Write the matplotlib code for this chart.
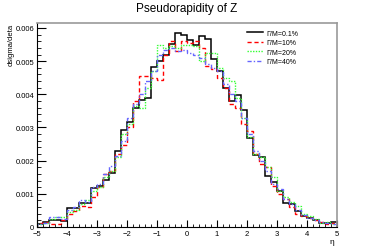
import numpy as np
import matplotlib
matplotlib.use("Agg")
import matplotlib.pyplot as plt
from matplotlib.ticker import MultipleLocator

plt.rcParams['font.family'] = ['Liberation Sans', 'DejaVu Sans']

# 50 bins of width 0.2 from -5 to 5
edges = np.linspace(-5, 5, 51)

w01 = [0.00009, 0.00015, 0.00020, 0.00020, 0.00017, 0.00057, 0.00057, 0.00073, 0.00073, 0.00117,
       0.00125, 0.00143, 0.00164, 0.00229, 0.00292, 0.00317, 0.00358, 0.00383, 0.00388, 0.00481,
       0.00501, 0.00519, 0.00552, 0.00586, 0.00578, 0.00565, 0.00550, 0.00575, 0.00568, 0.00507,
       0.00469, 0.00418, 0.00380, 0.00398, 0.00353, 0.00269, 0.00216, 0.00211, 0.00153, 0.00135,
       0.00110, 0.00073, 0.00070, 0.00049, 0.00032, 0.00028, 0.00022, 0.00011, 0.00011, 0.00014]

w10 = [0.00012, 0.00015, 0.00010, 0.00009, 0.00020, 0.00040, 0.00048, 0.00063, 0.00060, 0.00090,
       0.00120, 0.00160, 0.00170, 0.00220, 0.00246, 0.00300, 0.00380, 0.00454, 0.00454, 0.00450,
       0.00443, 0.00520, 0.00560, 0.00530, 0.00560, 0.00555, 0.00560, 0.00540, 0.00484, 0.00475,
       0.00450, 0.00420, 0.00370, 0.00360, 0.00310, 0.00290, 0.00220, 0.00190, 0.00180, 0.00125,
       0.00100, 0.00085, 0.00060, 0.00040, 0.00032, 0.00026, 0.00020, 0.00014, 0.00010, 0.00012]

w20 = [0.00010, 0.00012, 0.00025, 0.00030, 0.00030, 0.00045, 0.00050, 0.00068, 0.00080, 0.00110,
       0.00120, 0.00150, 0.00170, 0.00210, 0.00280, 0.00310, 0.00365, 0.00360, 0.00420, 0.00470,
       0.00550, 0.00540, 0.00545, 0.00540, 0.00550, 0.00550, 0.00545, 0.00500, 0.00524, 0.00524,
       0.00480, 0.00450, 0.00440, 0.00390, 0.00330, 0.00270, 0.00220, 0.00210, 0.00180, 0.00150,
       0.00110, 0.00090, 0.00075, 0.00063, 0.00040, 0.00032, 0.00025, 0.00012, 0.00015, 0.00010]

w40 = [0.00008, 0.00012, 0.00030, 0.00030, 0.00025, 0.00050, 0.00060, 0.00080, 0.00075, 0.00120,
       0.00130, 0.00160, 0.00185, 0.00215, 0.00260, 0.00330, 0.00370, 0.00400, 0.00440, 0.00470,
       0.00520, 0.00535, 0.00540, 0.00530, 0.00535, 0.00525, 0.00520, 0.00510, 0.00490, 0.00480,
       0.00470, 0.00430, 0.00400, 0.00380, 0.00330, 0.00280, 0.00230, 0.00200, 0.00170, 0.00130,
       0.00115, 0.00085, 0.00070, 0.00050, 0.00035, 0.00028, 0.00020, 0.00014, 0.00012, 0.00008]

labels = ["\u0393/M=0.1%", "\u0393/M=10%", "\u0393/M=20%", "\u0393/M=40%"]

fig = plt.figure(figsize=(3.74, 2.53), dpi=100)
ax = fig.add_axes([37/374, 1-228/253, 300/374, 204/253])

ax.stairs(w01, edges, color='black', lw=1.1, label=labels[0])
ax.stairs(w10, edges, color='#ff0000', lw=1.0, ls=(0, (3, 2)), label=labels[1])
ax.stairs(w20, edges, color='#33ff33', lw=1.0, ls=(0, (1, 1)), label=labels[2])
ax.stairs(w40, edges, color='#6666ff', lw=1.0, ls=(0, (3, 1.5, 1, 1.5)), label=labels[3])

ax.set_xlim(-5, 5)
ax.set_ylim(0, 0.00615)
ax.xaxis.set_major_locator(MultipleLocator(1))
ax.xaxis.set_minor_locator(MultipleLocator(0.2))
ax.yaxis.set_major_locator(MultipleLocator(0.001))
ax.yaxis.set_minor_locator(MultipleLocator(0.0002))
ax.yaxis.set_major_formatter(plt.FuncFormatter(lambda v, p: "0" if abs(v) < 1e-9 else "%.3f" % v))
ax.xaxis.set_major_formatter(plt.FuncFormatter(lambda v, p: ("%d" % round(v)).replace("-", "\u2212")))

ax.tick_params(axis='both', which='both', direction='in', labelsize=5.5, top=False, right=False)
ax.tick_params(axis='y', which='major', length=6.5, width=0.8, pad=2)
ax.tick_params(axis='y', which='minor', length=3.2, width=0.6)
ax.tick_params(axis='x', which='major', length=5, width=0.8, pad=2)
ax.tick_params(axis='x', which='minor', length=2.5, width=0.6)

for s in ['top', 'right']:
    ax.spines[s].set_color('#999999')
    ax.spines[s].set_linewidth(1.2)

fig.text(0.5, 0.965, "Pseudorapidity of Z", ha='center', va='center', fontsize=8.5)
ax.set_ylabel("dsigma/deta", fontsize=5.5, loc='top')
ax.yaxis.set_label_coords(-0.073, 1.0)
ax.set_xlabel("\u03b7", fontsize=6, loc='right')
ax.xaxis.set_label_coords(0.99, -0.055)

ax.legend(loc='upper left', bbox_to_anchor=(0.69, 0.98), frameon=False, fontsize=5,
          handlelength=2.3, handletextpad=0.5, labelspacing=0.35, borderaxespad=0)

fig.savefig("out.png", dpi=100)
